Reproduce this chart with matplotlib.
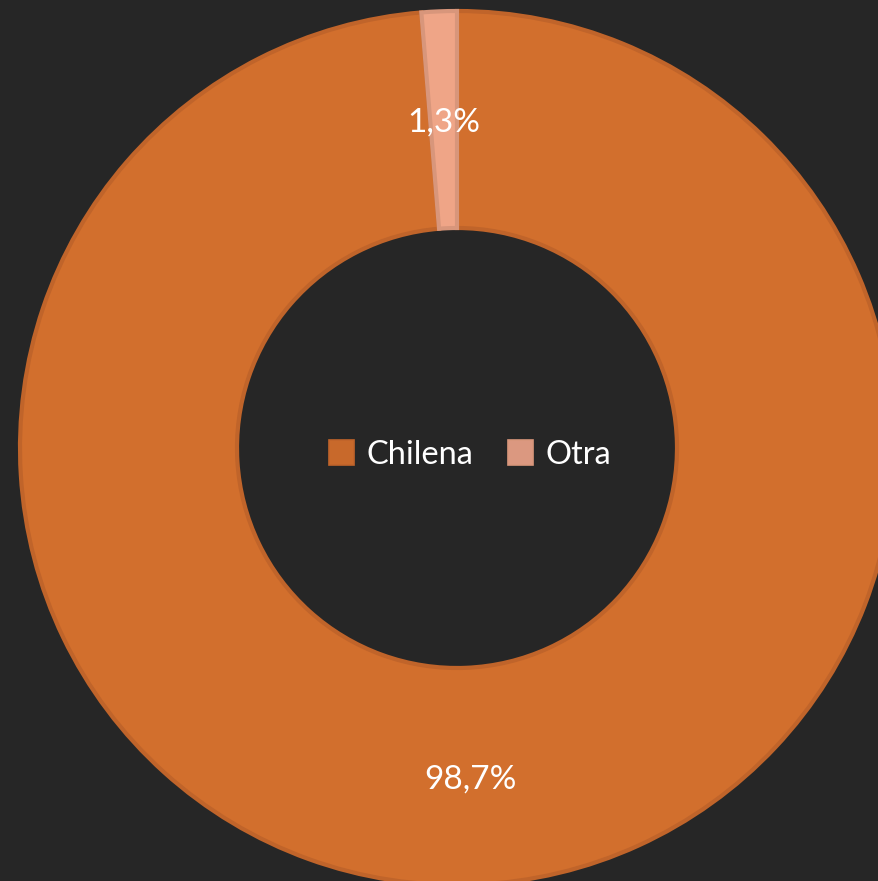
import matplotlib
matplotlib.use("Agg")
import matplotlib.pyplot as plt
from matplotlib.patches import Patch

categories = ["Chilena", "Otra"]
values = [98.7, 1.3]
face_colors = ["#D26F2D", "#EFA587"]
edge_colors = ["#C0642A", "#D8967B"]
legend_colors = ["#C8692B", "#DB9880"]

BG = "#262626"
W, H = 879, 881
fig = plt.figure(figsize=(W / 100, H / 100), dpi=100, facecolor=BG)
ax = fig.add_axes([0, 0, 1, 1])
ax.set_facecolor(BG)

R_OUT, R_IN = 437, 220
cx, cy = 457, H - 448

def fmt(p):
    return f"{p:.1f}%".replace(".", ",")

wedges, texts, autotexts = ax.pie(
    values, colors=face_colors, startangle=90, counterclock=False,
    center=(cx, cy), radius=R_OUT, autopct=fmt,
    pctdistance=((R_OUT + R_IN) / 2) / R_OUT,
    wedgeprops=dict(width=R_OUT - R_IN, linewidth=3),
    textprops=dict(color="white", fontsize=24, family="Lato"),
)
for w, ec in zip(wedges, edge_colors):
    w.set_edgecolor(ec)
for t in autotexts:
    t.set_verticalalignment("center_baseline")

ax.set_xlim(0, W)
ax.set_ylim(0, H)
ax.set_aspect("auto")
ax.axis("off")

handles = [Patch(facecolor=fc, edgecolor=ec, linewidth=1.2)
           for fc, ec in zip(legend_colors, edge_colors)]
leg = ax.legend(handles, categories, loc="center", bbox_to_anchor=(470 / W, 1 - 455 / H),
                ncol=2, frameon=False, handlelength=0.78, handleheight=0.78,
                handletextpad=0.38, columnspacing=1.05,
                prop=dict(family="Lato", size=23.5))
for t in leg.get_texts():
    t.set_color("white")

fig.savefig("out.png", dpi=100, facecolor=BG)
